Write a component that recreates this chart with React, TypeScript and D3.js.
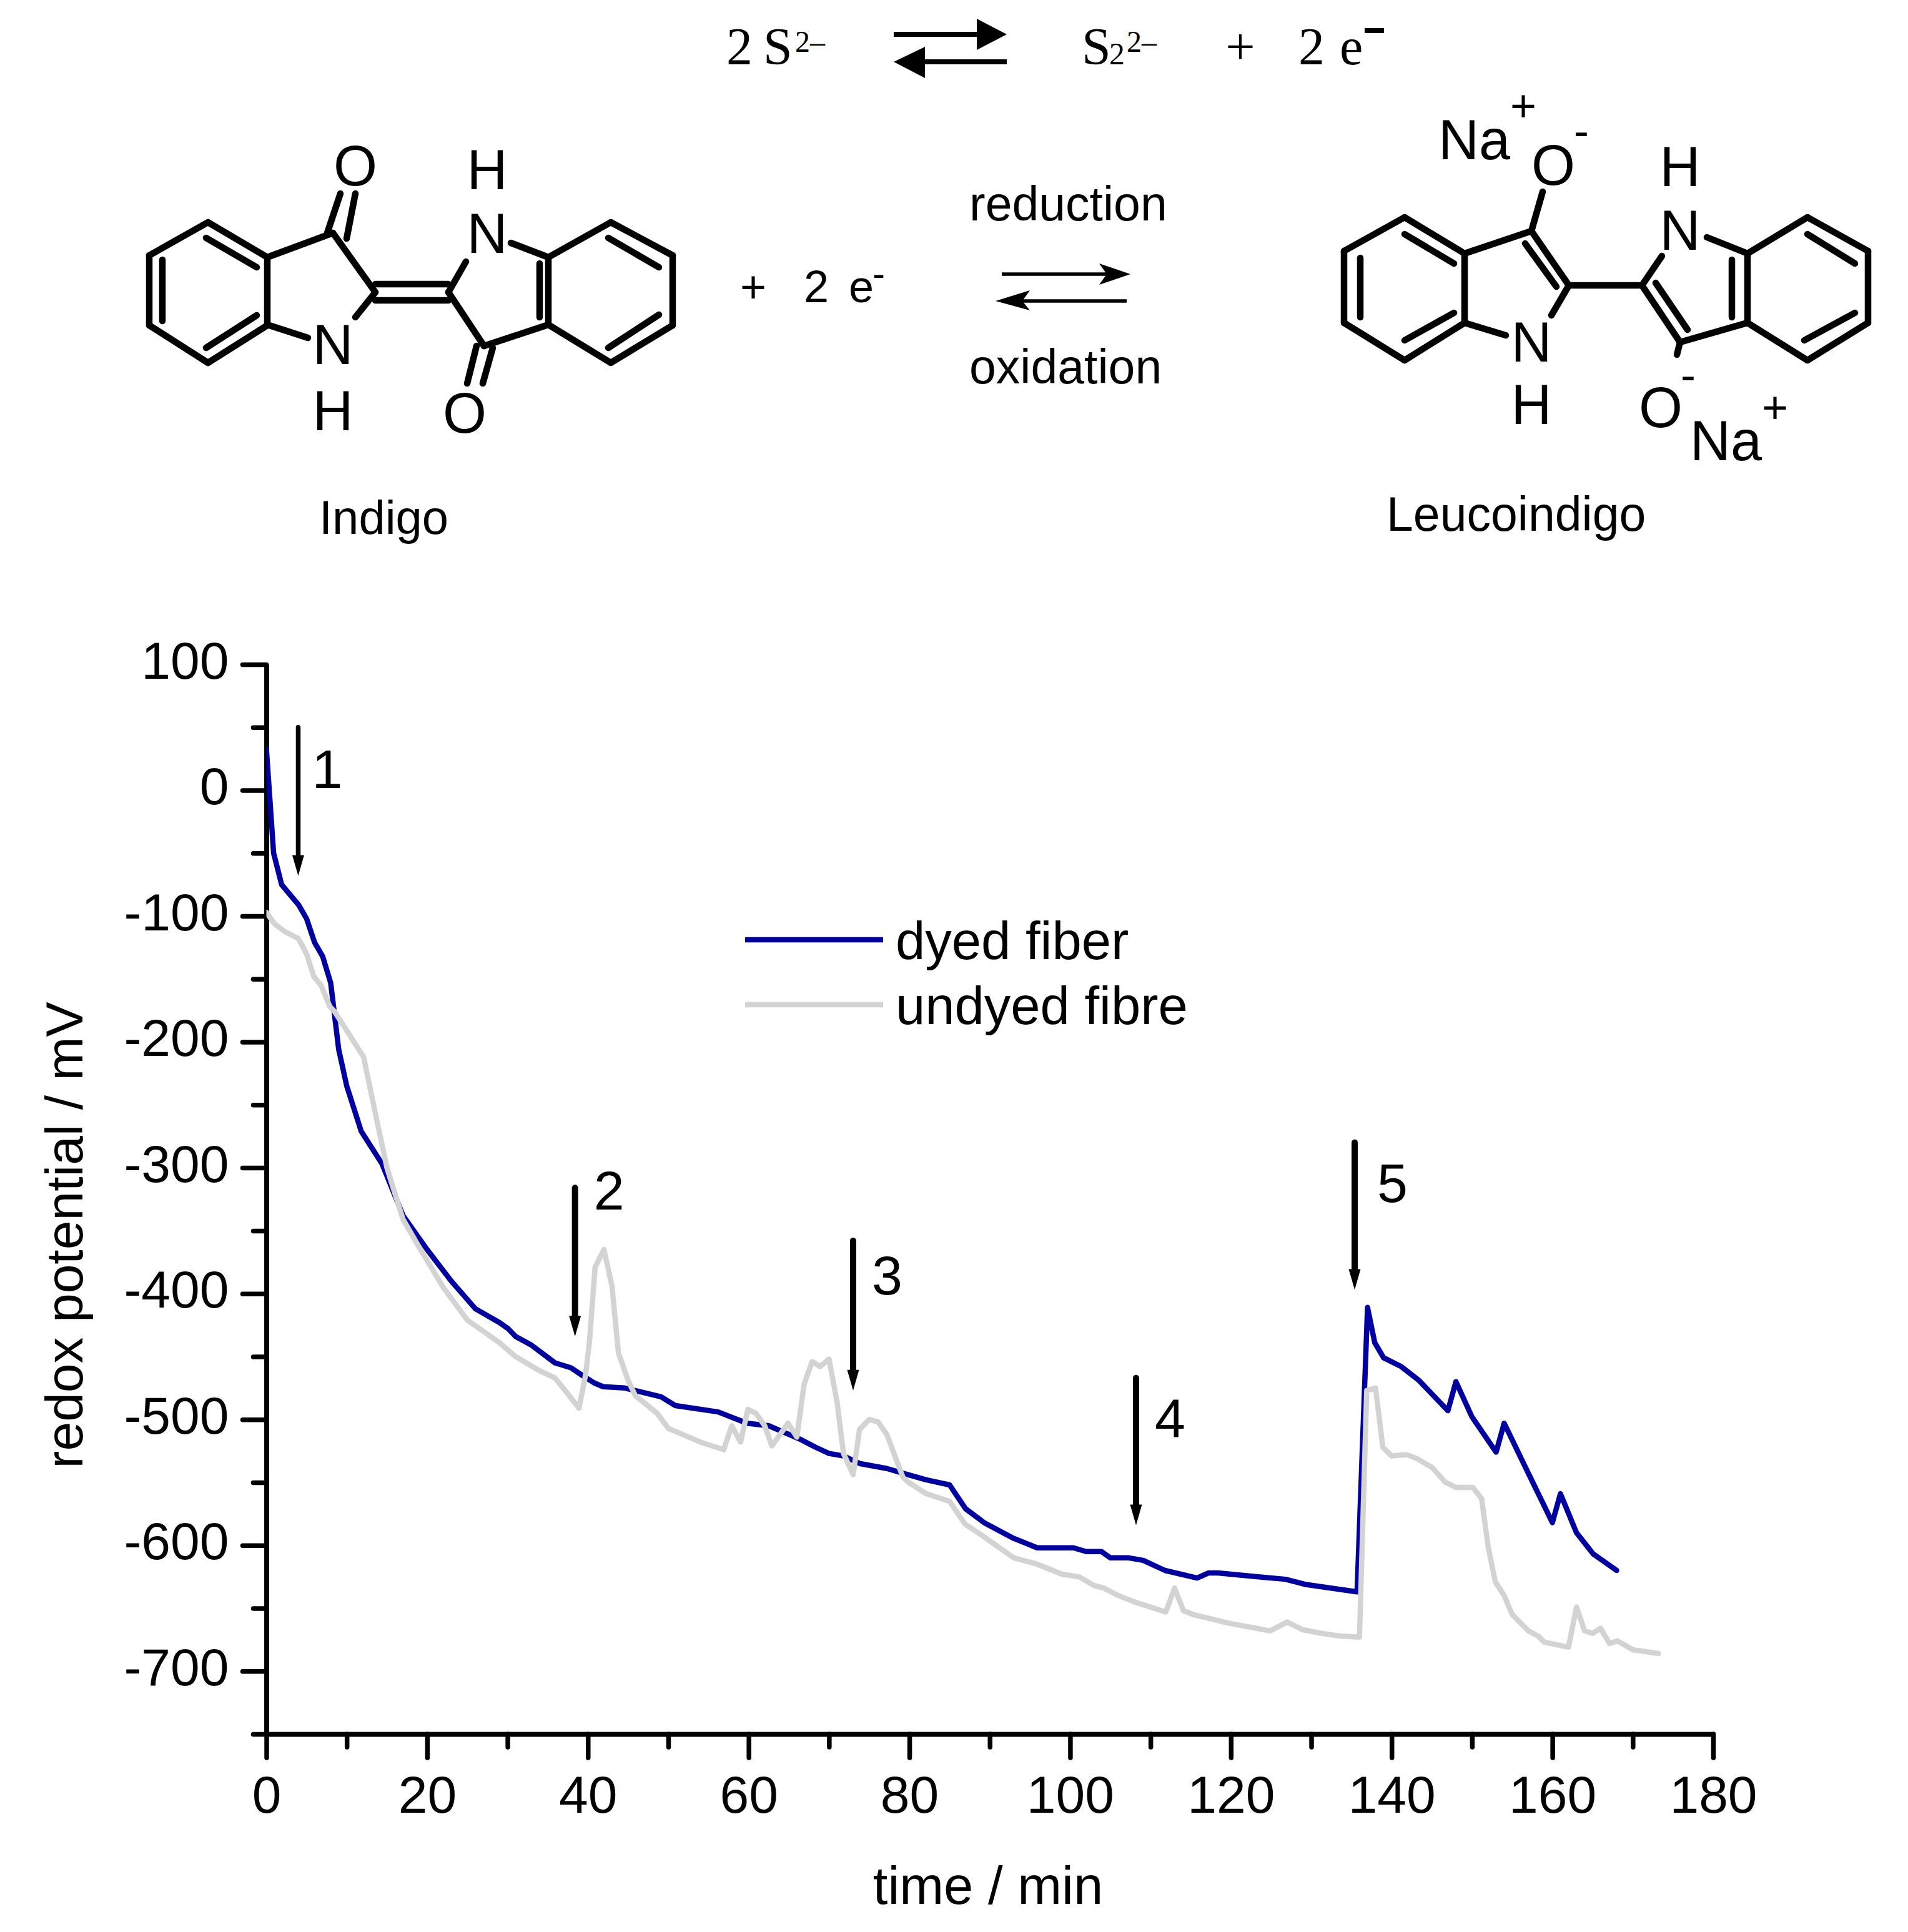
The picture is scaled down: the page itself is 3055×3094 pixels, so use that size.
import React, { useEffect, useRef } from 'react'
import * as d3 from 'd3'

// values: minutes and mV
const dyedTime = [0, 0.9, 1.9, 4, 5, 6, 7, 8, 9, 10, 11.8, 14.4, 17, 20, 23, 26, 29, 30.1, 31, 33, 35.9, 37.9, 39.3, 40.8, 41.9, 44.6, 49.1, 50.9, 56.2, 59.8, 62.5, 64.7, 66.5, 68.3, 70, 71.8, 73.8, 77.2, 79.9, 82.1, 85, 87, 89.3, 92.8, 95.9, 100.4, 102, 103.9, 105, 107.3, 109.1, 111.8, 115.8, 117.2, 118.4, 121.6, 126.8, 129.2, 135.7, 137, 137.9, 139, 141.2, 143.4, 147, 148, 150, 153, 154, 156.8, 160, 161, 163, 165.1, 168]
const dyedPotential = [33, -50, -75, -91, -102, -121, -132, -153, -206, -235, -271, -297, -338, -365, -390, -412, -423, -428, -434, -441, -455, -459, -465, -471, -474, -475, -482, -489, -494, -503, -505, -511, -516, -522, -527, -529, -535, -539, -544, -548, -552, -571, -582, -594, -602, -602, -605, -605, -610, -610, -612, -620, -626, -622, -622, -624, -627, -631, -637, -411, -439, -451, -458, -469, -493, -470, -498, -526, -503, -540, -582, -559, -590, -607, -620]

const undyedTime = [0, 1, 2.2, 4, 5, 5.9, 6.8, 7.9, 8.5, 12.1, 13.6, 15, 17, 19, 22, 25, 29, 31, 33.9, 35.9, 36.8, 38.9, 39.7, 40.2, 40.9, 42, 43, 43.8, 45, 45.9, 48.6, 50, 54, 56.9, 57.9, 59, 59.9, 60.9, 62, 62.9, 64.9, 66, 66.9, 67.9, 68.9, 70, 71, 71.8, 73, 73.8, 75, 76.1, 77.2, 79.2, 79.9, 82.1, 85, 86.9, 89, 91, 93, 95.9, 99, 101.1, 103, 104.2, 106, 108, 111.9, 113, 114.1, 115.3, 119.8, 124.9, 127, 128.9, 131.3, 133.4, 136, 136.9, 138, 138.9, 140, 141.9, 143.1, 145, 146.7, 148, 150.1, 151.2, 152, 152.9, 154, 155, 157, 158.2, 159, 162, 163, 164, 165, 166, 167.1, 168.1, 170, 173.2]
const undyedPotential = [-97, -106, -112, -118, -130, -148, -155, -172, -176, -212, -258, -300, -341, -363, -395, -421, -439, -450, -461, -467, -474, -491, -465, -438, -379, -365, -394, -447, -469, -481, -495, -507, -518, -524, -505, -518, -492, -495, -505, -521, -503, -514, -472, -454, -458, -452, -486, -527, -544, -508, -500, -502, -512, -546, -550, -559, -565, -583, -592, -601, -610, -615, -623, -625, -632, -634, -640, -645, -653, -634, -652, -655, -662, -668, -661, -667, -670, -672, -673, -477, -475, -522, -529, -528, -531, -538, -550, -554, -554, -563, -601, -629, -640, -655, -668, -672, -677, -681, -649, -668, -670, -666, -678, -676, -683, -686]

const xMajor = [0, 20, 40, 60, 80, 100, 120, 140, 160, 180]
const xMinor = [10, 30, 50, 70, 90, 110, 130, 150, 170]
const yMajor = [100, 0, -100, -200, -300, -400, -500, -600, -700]
const yMinor = [50, -50, -150, -250, -350, -450, -550, -650, -750]

// sample additions: label, time, top and tip of the arrow in mV
const arrowLabels = ['1', '2', '3', '4', '5']
const arrowTimes = [3.96, 38.4, 73, 108.2, 135.4]
const arrowTops = [50, -316, -358, -467, -280]
const arrowTips = [-68, -434, -477, -584, -397]

const legendNames = ['dyed fiber', 'undyed fibre']

type Seg = [number, number, number, number]

// chemical structures, page pixels
const indigoBonds: Seg[] = [
    [333, 356, 239, 409], [239, 409, 239, 521], [239, 521, 333, 581], [333, 581, 428, 521], [428, 521, 428, 412], [428, 412, 333, 356],
    [330, 381, 411, 428], [260, 416, 260, 514], [330, 557, 411, 505],
    [428, 412, 533, 373], [533, 373, 601, 468], [601, 468, 569, 508], [428, 520, 493, 541],
    [524, 373, 545, 310], [555, 382, 569, 310],
    [601, 455, 718, 455], [601, 481, 718, 481],
    [718, 468, 746, 419], [718, 468, 775, 554], [775, 554, 878, 520], [818, 389, 878, 412], [878, 412, 878, 520],
    [878, 412, 978, 356], [978, 356, 1077, 409], [1077, 409, 1077, 521], [1077, 521, 978, 581], [978, 581, 878, 520],
    [974, 381, 1055, 428], [1055, 504, 974, 557], [864, 422, 864, 508],
    [748, 614, 763, 554], [773, 614, 789, 557],
]
const leucoBonds: Seg[] = [
    [2249, 348, 2152, 402], [2152, 402, 2152, 517], [2152, 517, 2249, 577], [2249, 577, 2345, 517], [2345, 517, 2345, 406], [2345, 406, 2249, 348],
    [2249, 375, 2328, 422], [2178, 413, 2178, 508], [2249, 545, 2328, 501],
    [2345, 406, 2452, 370], [2452, 370, 2512, 457], [2442, 390, 2492, 459], [2512, 457, 2484, 505], [2411, 537, 2345, 517],
    [2452, 370, 2470, 307], [2512, 457, 2629, 457], [2629, 457, 2661, 410],
    [2629, 457, 2690, 548], [2651, 453, 2702, 528], [2690, 548, 2685, 568], [2690, 548, 2798, 517],
    [2733, 380, 2798, 406], [2798, 406, 2798, 517], [2798, 406, 2894, 348], [2894, 348, 2991, 402], [2991, 402, 2991, 517], [2991, 517, 2894, 577], [2894, 577, 2798, 517],
    [2894, 375, 2970, 422], [2970, 501, 2889, 545], [2773, 416, 2773, 508],
]

// text, x, y, size, anchor
type Lab = [string, number, number, number, string]
const sansLabels: Lab[] = [
    ['O', 569, 297, 90, 'middle'], ['H', 780, 303, 90, 'middle'], ['N', 780, 405, 90, 'middle'],
    ['N', 533, 583, 90, 'middle'], ['H', 533, 689, 90, 'middle'], ['O', 744, 693, 90, 'middle'],
    ['Indigo', 511, 855, 76, 'start'],
    ['+', 1206, 484, 72, 'middle'], ['2', 1287, 484, 72, 'start'], ['e', 1359, 484, 72, 'start'], ['-', 1407, 458, 60, 'middle'],
    ['reduction', 1552, 353, 77, 'start'], ['oxidation', 1552, 614, 77, 'start'],
    ['Na', 2303, 255, 90, 'start'], ['+', 2439, 194, 72, 'middle'], ['O', 2487, 296, 90, 'middle'], ['-', 2532, 234, 72, 'middle'],
    ['H', 2690, 298, 90, 'middle'], ['N', 2690, 400, 90, 'middle'], ['N', 2452, 579, 90, 'middle'], ['H', 2452, 679, 90, 'middle'],
    ['O', 2659, 684, 90, 'middle'], ['-', 2703, 625, 72, 'middle'], ['Na', 2706, 737, 90, 'start'], ['+', 2842, 677, 72, 'middle'],
    ['Leucoindigo', 2220, 850, 77, 'start'],
]
const serifLabels: Lab[] = [
    ['2', 1163, 103, 84, 'start'], ['S', 1222, 103, 84, 'start'], ['2–', 1273, 83, 48, 'start'],
    ['S', 1732, 103, 84, 'start'], ['2', 1776, 103, 50, 'start'], ['2–', 1804, 83, 48, 'start'],
    ['+', 1986, 103, 84, 'middle'], ['2', 2079, 103, 84, 'start'], ['e', 2145, 103, 84, 'start'],
]

export default function App() {
    const svgRef = useRef<SVGSVGElement>(null)
    const width = 3055
    const height = 3094

    useEffect(() => {
        if (!svgRef.current) return
        const svg = d3.select(svgRef.current)
        svg.selectAll('*').remove()

        const sans = 'Liberation Sans'
        const x = d3.scaleLinear().domain([0, 180]).range([426.5, 2743])
        const y = d3.scaleLinear().domain([-750, 100]).range([2777, 1064])

        // Structures
        const chem = svg.append('g')
        chem.selectAll('line.bond')
            .data([...indigoBonds, ...leucoBonds])
            .enter().append('line')
            .attr('x1', d => d[0]).attr('y1', d => d[1])
            .attr('x2', d => d[2]).attr('y2', d => d[3])
            .attr('stroke', '#000').attr('stroke-width', 10.5).attr('stroke-linecap', 'round')

        const addLabels = (labs: Lab[], family: string) => {
            chem.selectAll(null).data(labs).enter().append('text')
                .attr('x', d => d[1]).attr('y', d => d[2])
                .attr('font-size', d => d[3]).attr('text-anchor', d => d[4])
                .attr('font-family', family).attr('fill', '#000')
                .text(d => d[0])
        }
        addLabels(sansLabels, sans)
        addLabels(serifLabels, 'Liberation Serif')

        // bold minus after 2 e
        chem.append('rect').attr('x', 2185).attr('y', 45).attr('width', 31).attr('height', 8)

        // equilibrium arrows, top reaction
        chem.append('rect').attr('x', 1431).attr('y', 51).attr('width', 135).attr('height', 8)
        chem.append('path').attr('d', 'M1612,55L1564,30L1564,80Z')
        chem.append('rect').attr('x', 1479).attr('y', 95).attr('width', 133).attr('height', 8)
        chem.append('path').attr('d', 'M1431,99L1481,75L1481,125Z')

        // reduction / oxidation arrows
        chem.append('line').attr('x1', 1604).attr('y1', 439).attr('x2', 1800).attr('y2', 439).attr('stroke', '#000').attr('stroke-width', 5.5)
        chem.append('path').attr('d', 'M1810,439L1760,422L1772,439L1760,456Z')
        chem.append('line').attr('x1', 1604).attr('y1', 482).attr('x2', 1804).attr('y2', 482).attr('stroke', '#000').attr('stroke-width', 5.5)
        chem.append('path').attr('d', 'M1594,482L1649,465L1637,482L1649,497Z')

        // Axes
        const styleAxis = (g: d3.Selection<SVGGElement, unknown, null, undefined>) => {
            g.selectAll('path').attr('stroke', '#000').attr('stroke-width', 7.5)
            g.selectAll('line').attr('stroke', '#000').attr('stroke-width', 7.5).attr('stroke-linecap', 'round')
            g.selectAll('text').attr('font-family', sans).attr('font-size', 84).attr('fill', '#000')
        }

        const yAxis = svg.append('g').attr('transform', `translate(${x(0)},0)`)
            .call(d3.axisLeft(y).tickValues(yMajor).tickSize(38).tickSizeOuter(0).tickPadding(22).tickFormat(d => String(d)))
        styleAxis(yAxis)
        yAxis.selectAll('text').attr('dy', 22)

        svg.append('g').attr('transform', `translate(${x(0)},0)`)
            .call(d3.axisLeft(y).tickValues(yMinor).tickSize(21).tickSizeOuter(0).tickFormat(() => ''))
            .call(styleAxis)

        const xAxis = svg.append('g').attr('transform', `translate(0,${y(-750)})`)
            .call(d3.axisBottom(x).tickValues(xMajor).tickSize(38).tickSizeOuter(0).tickPadding(22).tickFormat(d => String(d)))
        styleAxis(xAxis)
        xAxis.selectAll('text').attr('dy', 0).attr('y', 126)

        svg.append('g').attr('transform', `translate(0,${y(-750)})`)
            .call(d3.axisBottom(x).tickValues(xMinor).tickSize(21).tickSizeOuter(0).tickFormat(() => ''))
            .call(styleAxis)

        svg.append('text').attr('x', 1582).attr('y', 3049).attr('text-anchor', 'middle')
            .attr('font-family', sans).attr('font-size', 85).text('time / min')
        svg.append('text').attr('transform', 'translate(132,1978) rotate(-90)').attr('text-anchor', 'middle')
            .attr('font-family', sans).attr('font-size', 84).text('redox potential / mV')

        // Series
        svg.append('clipPath').attr('id', 'plot')
            .append('rect').attr('x', x(0)).attr('y', 0).attr('width', width).attr('height', height)

        const line = d3.line<[number, number]>().x(d => x(d[0])).y(d => y(d[1]))
        const drawSeries = (times: number[], values: number[], color: string) => {
            svg.append('path')
                .attr('d', line(times.map((t, i) => [t, values[i]] as [number, number])))
                .attr('fill', 'none').attr('stroke', color).attr('stroke-width', 8.5)
                .attr('stroke-linejoin', 'round').attr('stroke-linecap', 'round')
                .attr('clip-path', 'url(#plot)')
        }
        drawSeries(dyedTime, dyedPotential, '#0000a0')
        drawSeries(undyedTime, undyedPotential, '#d3d3d3')

        // Arrows with numbers
        const labelDx = [22, 30, 30, 30, 36]
        const labelDy = [97, 35, 86, 95, 95]
        arrowLabels.forEach((label, i) => {
            const ax = x(arrowTimes[i])
            const top = y(arrowTops[i])
            const tip = y(arrowTips[i])
            const w = i === 0 ? 7.5 : 10
            svg.append('line').attr('x1', ax).attr('x2', ax).attr('y1', top).attr('y2', tip - 25)
                .attr('stroke', '#000').attr('stroke-width', w).attr('stroke-linecap', 'round')
            svg.append('path').attr('d', `M${ax},${tip}L${ax - 9.5},${tip - 33}L${ax + 9.5},${tip - 33}Z`)
            svg.append('text').attr('x', ax + labelDx[i]).attr('y', top + labelDy[i])
                .attr('text-anchor', 'start').attr('font-family', sans).attr('font-size', 88).text(label)
        })

        // Legend
        const legendColors = ['#0000a0', '#d3d3d3']
        legendNames.forEach((name, i) => {
            const ly = 1505 + i * 104
            svg.append('line').attr('x1', 1193).attr('x2', 1414).attr('y1', ly).attr('y2', ly)
                .attr('stroke', legendColors[i]).attr('stroke-width', 8.5)
            svg.append('text').attr('x', 1434).attr('y', ly + 31)
                .attr('font-family', sans).attr('font-size', 85).text(name)
        })
    }, [])

    return (
        <svg ref={svgRef} width={width} height={height} viewBox={`0 0 ${width} ${height}`}
            style={{ position: 'absolute', left: 0, top: 0, background: '#fff' }} />
    )
}
